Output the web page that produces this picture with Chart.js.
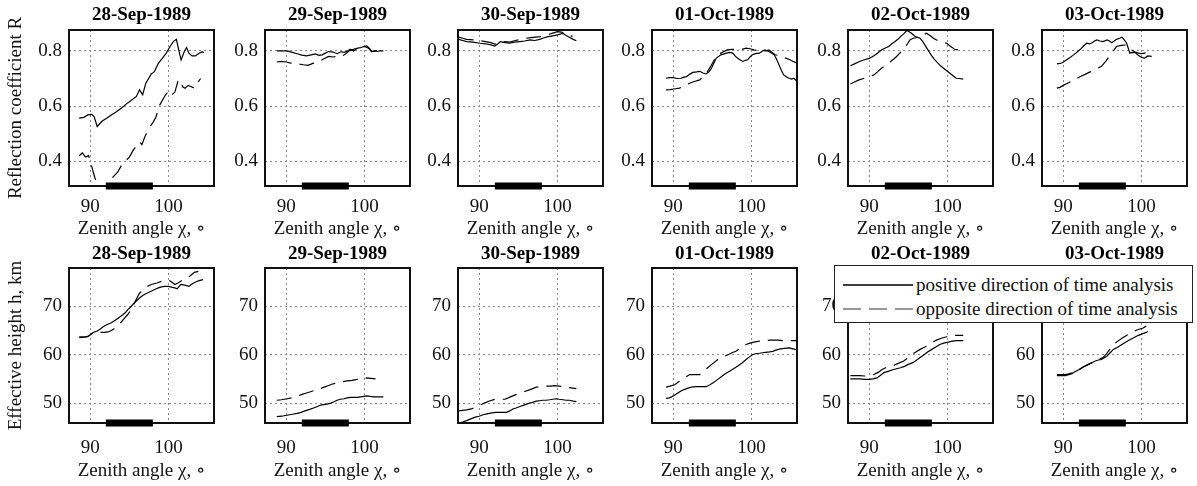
<!DOCTYPE html>
<html lang="en">
<head>
<meta charset="UTF-8">
<title>Reflection coefficient and effective height, 28-Sep to 03-Oct 1989</title>
<script src="https://cdn.jsdelivr.net/npm/chart.js"></script>
<style>
  body { margin: 0; background: #fff; }
  #fig { position: relative; width: 1197px; height: 486px; overflow: hidden; background: #fff; }
  #fig canvas { position: absolute; }
  #legend {
    position: absolute; left: 834px; top: 265px; width: 359px; height: 58px;
    box-sizing: border-box; border: 1px solid #222; background: #fff; z-index: 5;
    font-family: 'Liberation Serif', 'DejaVu Serif', serif; font-size: 19px; color: #111;
  }
  #legend svg { position: absolute; left: 0; top: 0; }
  #legend span { position: absolute; left: 81px; line-height: 22px; white-space: nowrap; }
</style>
</head>
<body>
<div id="fig">
  <div id="legend">
    <svg width="90" height="58">
      <line x1="8" y1="19" x2="78" y2="19" stroke="#000" stroke-width="1.3"/>
      <line x1="8" y1="43" x2="78" y2="43" stroke="#777" stroke-width="1.3" stroke-dasharray="18 8"/>
    </svg>
    <span style="top:8px">positive direction of time analysis</span>
    <span style="top:32px">opposite direction of time analysis</span>
  </div>
</div>
<script>
const serif = "'Liberation Serif', 'DejaVu Serif', serif";
Chart.defaults.font.family = serif;
Chart.defaults.color = '#111';

const dates = ['28-Sep-1989', '29-Sep-1989', '30-Sep-1989', '01-Oct-1989', '02-Oct-1989', '03-Oct-1989'];
const xTicks = [90, 100];
const reflTicks = [0.4, 0.6, 0.8];
const heightTicks = [50, 60, 70];
const nightBar = [92, 98]; // zenith angle span of the black bar on each axis

// reflection coefficient R, [zenith angle, R]
const reflPos28Sep = [[88.6,0.556],[89.2,0.559],[89.7,0.568],[90.2,0.57],[90.5,0.562],[90.9,0.526],[91.5,0.545],[92.1,0.556],[92.7,0.568],[93.4,0.58],[94.0,0.593],[94.6,0.607],[95.3,0.622],[95.9,0.635],[96.3,0.659],[96.7,0.641],[97.1,0.683],[97.8,0.717],[98.2,0.725],[98.7,0.755],[99.2,0.773],[99.7,0.792],[100.2,0.816],[100.6,0.834],[101.0,0.842],[101.3,0.804],[101.6,0.767],[102.0,0.797],[102.3,0.812],[102.6,0.792],[103.0,0.782],[103.4,0.782],[103.9,0.792],[104.3,0.797],[104.5,0.794]];
const reflOpp28Sep = [[88.6,0.42],[89.0,0.43],[89.4,0.415],[89.8,0.42],[90.2,0.38],[90.6,0.34],[91.0,0.31],[91.5,0.29],[92.0,0.31],[92.4,0.33],[93.0,0.345],[93.5,0.36],[94.0,0.385],[94.5,0.40],[95.0,0.415],[95.5,0.44],[96.0,0.46],[96.3,0.47],[96.6,0.46],[97.0,0.49],[97.5,0.52],[98.0,0.54],[98.4,0.56],[98.8,0.60],[99.2,0.62],[99.6,0.64],[100.0,0.655],[100.4,0.64],[100.8,0.65],[101.2,0.69],[101.5,0.695],[101.8,0.67],[102.1,0.665],[102.5,0.675],[102.9,0.67],[103.3,0.665],[103.7,0.685],[104.1,0.70]];
const reflPos29Sep = [[88.8,0.80],[89.5,0.80],[90.1,0.80],[90.8,0.795],[91.4,0.79],[92.0,0.785],[92.6,0.782],[93.2,0.786],[93.7,0.789],[94.2,0.784],[94.6,0.786],[95.0,0.792],[95.4,0.798],[96.0,0.796],[96.5,0.79],[97.0,0.797],[97.4,0.795],[97.8,0.80],[98.2,0.806],[98.6,0.80],[99.1,0.81],[99.5,0.812],[99.9,0.816],[100.3,0.818],[100.6,0.81],[100.9,0.798],[101.3,0.80],[101.6,0.798],[102.0,0.80],[102.4,0.80]];
const reflOpp29Sep = [[88.8,0.76],[89.4,0.762],[90.0,0.76],[90.6,0.756],[91.2,0.754],[91.7,0.752],[92.2,0.75],[92.8,0.748],[93.4,0.755],[94.1,0.76],[94.7,0.77],[95.4,0.78],[96.0,0.778],[96.6,0.782],[97.1,0.78],[97.6,0.79],[98.0,0.80],[98.5,0.805],[99.0,0.81],[99.5,0.815],[100.0,0.816],[100.5,0.81],[100.9,0.798],[101.5,0.80],[102.0,0.798],[102.4,0.80]];
const reflPos30Sep = [[87.4,0.842],[87.9,0.838],[88.4,0.834],[89.2,0.832],[90.1,0.828],[90.8,0.826],[91.5,0.822],[92.0,0.818],[92.4,0.826],[92.7,0.834],[93.3,0.83],[93.9,0.828],[94.5,0.832],[95.2,0.834],[95.8,0.836],[96.5,0.84],[97.1,0.838],[97.7,0.842],[98.3,0.848],[98.8,0.852],[99.4,0.855],[100.0,0.858],[100.4,0.862],[100.7,0.864],[101.1,0.856],[101.5,0.85],[102.0,0.842],[102.4,0.837]];
const reflOpp30Sep = [[87.4,0.85],[87.9,0.846],[88.4,0.842],[89.3,0.84],[90.1,0.837],[90.8,0.834],[91.5,0.83],[92.0,0.825],[92.6,0.83],[93.3,0.834],[93.9,0.832],[94.6,0.838],[95.3,0.842],[96.0,0.846],[96.6,0.848],[97.2,0.85],[97.8,0.852],[98.6,0.858],[99.3,0.864],[100.0,0.87],[100.5,0.868],[101.0,0.864],[101.5,0.858],[101.9,0.852]];
const reflPos01Oct = [[89.1,0.701],[89.5,0.703],[90.0,0.703],[90.5,0.70],[91.0,0.701],[91.4,0.705],[91.7,0.707],[92.1,0.715],[92.5,0.722],[93.0,0.724],[93.4,0.726],[93.8,0.72],[94.2,0.717],[94.6,0.725],[94.9,0.738],[95.2,0.756],[95.5,0.774],[96.1,0.786],[96.8,0.792],[97.2,0.795],[97.6,0.792],[97.9,0.782],[98.2,0.774],[98.6,0.766],[98.9,0.762],[99.2,0.766],[99.5,0.768],[99.8,0.778],[100.1,0.786],[100.5,0.79],[101.0,0.792],[101.4,0.80],[101.7,0.804],[102.2,0.798],[102.6,0.792],[102.9,0.786],[103.2,0.77],[103.5,0.75],[103.8,0.73],[104.1,0.713],[104.5,0.705],[104.8,0.701],[105.1,0.698],[105.4,0.701],[105.8,0.69]];
const reflOpp01Oct = [[89.1,0.659],[89.6,0.66],[90.1,0.662],[90.8,0.665],[91.5,0.675],[92.1,0.683],[92.8,0.69],[93.4,0.695],[93.9,0.71],[94.4,0.726],[94.9,0.75],[95.3,0.77],[95.7,0.786],[96.3,0.795],[96.9,0.804],[97.5,0.806],[98.0,0.806],[98.6,0.804],[99.3,0.81],[99.8,0.808],[100.3,0.804],[100.9,0.80],[101.4,0.798],[101.8,0.80],[102.2,0.804],[102.6,0.795],[103.0,0.786],[103.4,0.784],[103.8,0.782],[104.3,0.775],[104.9,0.768],[105.3,0.762],[105.8,0.756]];
const reflPos02Oct = [[87.6,0.746],[88.2,0.754],[88.7,0.761],[89.3,0.767],[90.0,0.773],[90.4,0.779],[90.8,0.786],[91.2,0.795],[91.6,0.804],[92.0,0.81],[92.5,0.816],[92.9,0.826],[93.3,0.834],[93.7,0.843],[94.0,0.852],[94.4,0.862],[94.8,0.874],[95.1,0.87],[95.4,0.864],[95.9,0.852],[96.5,0.846],[96.8,0.836],[97.1,0.822],[97.5,0.804],[97.9,0.786],[98.3,0.77],[98.8,0.755],[99.1,0.746],[99.5,0.737],[99.9,0.728],[100.3,0.719],[100.7,0.71],[101.1,0.701],[101.5,0.70],[102.0,0.698]];
const reflOpp02Oct = [[87.6,0.68],[88.2,0.688],[88.7,0.695],[89.3,0.70],[90.0,0.706],[90.6,0.713],[91.1,0.725],[91.6,0.738],[92.2,0.75],[92.7,0.761],[93.1,0.77],[93.5,0.78],[94.0,0.795],[94.5,0.81],[94.9,0.826],[95.2,0.84],[95.6,0.846],[96.0,0.848],[96.5,0.852],[96.9,0.858],[97.3,0.864],[97.8,0.855],[98.2,0.846],[98.6,0.84],[99.0,0.834],[99.5,0.83],[99.9,0.828],[100.4,0.816],[100.9,0.806],[101.5,0.803],[102.0,0.80]];
const reflPos03Oct = [[89.2,0.753],[89.6,0.755],[89.9,0.757],[90.3,0.765],[90.7,0.773],[91.2,0.783],[91.6,0.792],[92.2,0.806],[92.6,0.818],[93.0,0.828],[93.4,0.826],[93.7,0.83],[94.0,0.836],[94.3,0.84],[94.7,0.836],[95.1,0.834],[95.6,0.84],[95.9,0.836],[96.2,0.83],[96.5,0.836],[96.8,0.842],[97.2,0.846],[97.5,0.85],[97.8,0.84],[98.1,0.828],[98.3,0.81],[98.5,0.792],[98.8,0.795],[99.2,0.794],[99.5,0.786],[99.8,0.78],[100.1,0.776],[100.4,0.774],[100.8,0.782],[101.3,0.78]];
const reflOpp03Oct = [[89.2,0.665],[89.6,0.668],[90.0,0.675],[90.5,0.682],[91.0,0.689],[91.6,0.698],[92.2,0.707],[92.8,0.715],[93.5,0.725],[94.2,0.735],[94.9,0.744],[95.5,0.765],[96.0,0.786],[96.4,0.80],[96.8,0.816],[97.4,0.82],[98.1,0.822],[98.4,0.812],[98.7,0.804],[99.2,0.796],[99.6,0.792],[100.0,0.79],[100.4,0.792],[100.8,0.80],[101.1,0.804]];

// effective height h in km, [zenith angle, h]
const heightPos28Sep = [[88.6,63.7],[89.1,63.7],[89.6,63.7],[90.0,64.1],[90.4,64.6],[90.9,64.9],[91.3,65.3],[91.7,65.8],[92.1,66.2],[92.7,66.6],[93.2,67.1],[93.7,67.7],[94.2,68.3],[94.5,68.7],[94.8,69.3],[95.2,69.9],[95.5,70.5],[95.9,71.1],[96.3,71.7],[96.7,72.2],[97.1,72.6],[97.5,72.9],[97.9,73.2],[98.3,73.5],[98.7,73.8],[99.1,74.0],[99.5,74.1],[100.0,74.1],[100.5,73.9],[100.8,73.8],[101.1,73.6],[101.4,74.2],[101.6,74.5],[102.2,74.3],[102.6,74.1],[102.9,74.5],[103.2,74.8],[103.6,75.1],[103.9,75.3],[104.4,75.5]];
const heightOpp28Sep = [[88.6,63.5],[89.2,63.6],[89.8,63.8],[90.3,64.5],[90.8,64.8],[91.3,64.6],[91.8,64.6],[92.3,64.7],[92.7,65.0],[93.0,65.3],[93.4,65.8],[94.0,66.8],[94.4,67.6],[94.8,68.3],[95.1,69.0],[95.5,70.2],[95.9,71.5],[96.3,72.7],[96.7,73.3],[97.1,73.8],[97.4,74.2],[97.8,74.5],[98.5,74.8],[99.2,75.2],[99.6,75.3],[100.0,75.4],[100.4,75.0],[100.8,74.5],[101.2,74.8],[101.6,75.2],[102.1,75.8],[102.7,76.2],[103.0,76.6],[103.3,77.0],[103.8,77.2]];
const heightPos29Sep = [[88.8,47.2],[89.4,47.3],[90.1,47.5],[90.8,47.7],[91.4,47.9],[91.9,48.1],[92.4,48.4],[93.0,48.7],[93.5,49.0],[94.0,49.3],[94.4,49.6],[94.8,49.7],[95.2,49.8],[95.7,50.0],[96.1,50.3],[96.5,50.6],[96.9,50.8],[97.4,50.9],[97.8,51.1],[98.2,51.2],[98.6,51.2],[99.1,51.2],[99.5,51.3],[99.9,51.4],[100.3,51.5],[100.7,51.4],[101.2,51.3],[101.8,51.3],[102.4,51.3]];
const heightOpp29Sep = [[88.8,50.6],[89.4,50.7],[90.1,50.9],[90.7,51.1],[91.4,51.4],[92.0,51.8],[92.6,52.1],[93.2,52.4],[93.9,52.8],[94.5,53.1],[95.2,53.5],[95.8,53.9],[96.5,54.2],[97.1,54.4],[97.8,54.6],[98.4,54.7],[99.1,54.9],[99.7,55.0],[100.3,55.2],[100.8,55.1],[101.4,55.0]];
const heightPos30Sep = [[87.4,45.9],[87.9,46.1],[88.4,46.4],[89.0,46.8],[89.5,47.1],[90.0,47.3],[90.5,47.6],[91.0,47.8],[91.6,48.0],[92.1,48.1],[92.7,48.1],[93.1,48.1],[93.5,48.1],[93.9,48.4],[94.3,48.8],[94.7,49.0],[95.2,49.3],[95.7,49.6],[96.2,49.9],[96.7,50.1],[97.3,50.4],[97.7,50.5],[98.1,50.6],[98.5,50.6],[99.0,50.7],[99.4,50.8],[99.8,50.9],[100.2,50.8],[100.7,50.7],[101.1,50.6],[101.5,50.6],[102.0,50.4],[102.4,50.3]];
const heightOpp30Sep = [[87.4,48.4],[87.9,48.5],[88.4,48.6],[89.0,48.8],[89.5,49.1],[90.1,49.6],[90.8,50.1],[91.4,50.5],[92.0,50.8],[92.6,50.8],[93.3,50.8],[94.0,51.3],[94.6,51.7],[95.2,52.1],[95.8,52.4],[96.5,52.8],[97.3,53.3],[98.0,53.4],[98.6,53.5],[99.1,53.5],[99.6,53.6],[100.2,53.5],[100.7,53.4],[101.5,53.2],[102.4,53.0]];
const heightPos01Oct = [[89.1,51.0],[89.5,51.1],[89.8,51.3],[90.2,51.7],[90.6,52.1],[91.1,52.6],[91.7,53.0],[92.3,53.3],[93.0,53.4],[93.6,53.4],[94.2,53.4],[94.7,53.8],[95.1,54.2],[95.6,54.8],[96.1,55.4],[96.6,56.0],[97.2,56.6],[97.7,57.1],[98.2,57.6],[98.8,58.3],[99.3,59.0],[99.7,59.5],[100.1,60.0],[100.5,60.2],[101.0,60.3],[101.4,60.4],[101.8,60.5],[102.3,60.6],[102.7,60.7],[103.2,61.0],[103.7,61.2],[104.2,61.3],[104.8,61.4],[105.3,61.2],[105.8,61.0]];
const heightOpp01Oct = [[89.1,53.3],[89.6,53.5],[90.2,53.8],[90.8,54.5],[91.4,55.2],[92.1,55.9],[92.7,55.9],[93.4,55.9],[93.9,56.6],[94.4,57.3],[95.0,58.1],[95.7,59.0],[96.3,59.5],[97.0,60.0],[97.5,60.4],[98.0,60.7],[98.6,61.4],[99.3,62.1],[99.8,62.4],[100.3,62.6],[101.0,62.8],[101.6,62.9],[102.3,63.0],[102.9,63.0],[103.4,63.0],[103.9,62.9],[104.8,62.9],[105.8,62.9]];
const heightPos02Oct = [[87.6,55.0],[88.2,55.0],[88.8,55.0],[89.4,54.9],[90.0,54.9],[90.5,55.0],[91.0,55.2],[91.5,55.8],[91.9,56.3],[92.5,56.6],[93.0,56.9],[93.5,57.1],[94.0,57.3],[94.5,57.6],[95.0,58.0],[95.5,58.3],[95.9,58.7],[96.5,59.4],[97.0,60.0],[97.5,60.6],[98.0,61.1],[98.5,61.6],[99.0,62.1],[99.5,62.4],[100.1,62.6],[100.6,62.8],[101.1,62.9],[101.5,62.9],[102.0,62.9]];
const heightOpp02Oct = [[87.6,55.7],[88.2,55.7],[88.8,55.7],[89.4,55.6],[90.0,55.6],[90.6,55.9],[91.2,56.4],[91.6,56.9],[92.1,57.3],[92.6,57.6],[93.1,57.8],[93.7,58.2],[94.4,58.7],[94.9,59.3],[95.4,60.0],[96.0,60.6],[96.5,61.1],[97.1,61.6],[97.6,62.1],[98.1,62.6],[98.6,63.0],[99.2,63.4],[99.9,63.7],[100.5,63.9],[101.0,64.0],[101.5,64.0],[102.0,64.0]];
const heightPos03Oct = [[89.2,55.7],[89.7,55.7],[90.3,55.7],[90.7,55.9],[91.1,56.1],[91.5,56.5],[92.0,56.9],[92.5,57.4],[93.0,57.8],[93.6,58.3],[94.1,58.7],[94.5,58.9],[94.9,59.0],[95.3,59.4],[95.6,59.7],[96.0,60.4],[96.4,61.1],[97.0,61.6],[97.5,62.1],[98.0,62.6],[98.5,63.1],[99.0,63.5],[99.6,64.0],[100.1,64.3],[100.6,64.6],[100.8,64.8]];
const heightOpp03Oct = [[89.2,55.9],[89.7,55.9],[90.3,55.9],[90.8,56.1],[91.4,56.4],[92.0,56.9],[92.6,57.5],[93.2,58.0],[93.9,58.5],[94.5,59.0],[95.1,59.4],[95.5,60.1],[95.8,60.8],[96.3,61.8],[96.8,62.6],[97.5,63.4],[98.3,64.2],[98.9,64.7],[99.4,65.1],[99.8,65.3],[100.2,65.5],[100.6,65.9]];

const reflPositive = [reflPos28Sep, reflPos29Sep, reflPos30Sep, reflPos01Oct, reflPos02Oct, reflPos03Oct];
const reflOpposite = [reflOpp28Sep, reflOpp29Sep, reflOpp30Sep, reflOpp01Oct, reflOpp02Oct, reflOpp03Oct];
const heightPositive = [heightPos28Sep, heightPos29Sep, heightPos30Sep, heightPos01Oct, heightPos02Oct, heightPos03Oct];
const heightOpposite = [heightOpp28Sep, heightOpp29Sep, heightOpp30Sep, heightOpp01Oct, heightOpp02Oct, heightOpp03Oct];

// layout of the 2 x 6 grid (pixels)
const plotLeft = [69, 265, 458, 652, 848, 1042];
const plotW = 145;
const rows = [
  { top: 0, head: 30, h: 156, foot: 57, min: 0.31, max: 0.876, ticks: reflTicks,
    yTitle: 'Reflection coefficient R', titlePad: {top: 4, bottom: 3.2}, tickPad: 10, xTitlePad: 2.6,
    fmt: v => v.toFixed(1), pos: reflPositive, opp: reflOpposite },
  { top: 243, head: 25, h: 155, foot: 63, min: 45.9, max: 77.9, ticks: heightTicks,
    yTitle: 'Effective height h, km', titlePad: {top: 0, bottom: 2.2}, tickPad: 14, xTitlePad: 4,
    fmt: v => String(v), pos: heightPositive, opp: heightOpposite }
];

const font19 = { family: serif, size: 19 };

const framePlugin = { // box round the axes, drawn under the data and the bar
  id: 'frame',
  beforeDatasetsDraw(chart) {
    const a = chart.chartArea, ctx = chart.ctx;
    ctx.save();
    ctx.strokeStyle = '#111';
    ctx.lineWidth = 2;
    ctx.strokeRect(a.left, a.top, a.right - a.left, a.bottom - a.top);
    ctx.restore();
  }
};

const fig = document.getElementById('fig');
const legendBox = document.getElementById('legend');

rows.forEach(row => {
  dates.forEach((date, c) => {
    const yw = c === 0 ? plotLeft[0] : 60;
    const cv = document.createElement('canvas');
    cv.width = yw + plotW + 6;
    cv.height = row.head + row.h + row.foot;
    cv.style.left = (plotLeft[c] - yw) + 'px';
    cv.style.top = row.top + 'px';
    fig.insertBefore(cv, legendBox);

    new Chart(cv, {
      type: 'line',
      data: {
        datasets: [
          { data: row.pos[c], borderColor: '#000', borderWidth: 1.2, pointRadius: 0, fill: false },
          { data: row.opp[c], borderColor: '#000', borderWidth: 1.2, borderDash: [15, 8], pointRadius: 0, fill: false },
          { data: nightBar.map(x => [x, row.min]), borderColor: '#000', borderWidth: 7,
            borderCapStyle: 'butt', pointRadius: 0, clip: false }
        ]
      },
      options: {
        responsive: false,
        animation: false,
        events: [],
        layout: { autoPadding: false, padding: {left: 0, right: 6, top: 0, bottom: 0} },
        plugins: {
          legend: { display: false },
          tooltip: { enabled: false },
          title: { display: true, text: date, fullSize: false, color: '#000',
                   font: {family: serif, size: 19, weight: 'bold'}, padding: row.titlePad }
        },
        scales: {
          x: {
            type: 'linear', min: 87.3, max: 105.8,
            afterBuildTicks: s => { s.ticks = xTicks.map(v => ({value: v})); },
            afterFit: s => { s.height = row.foot; },
            grid: { color: '#8a8a8a', lineWidth: 1, drawTicks: false },
            border: { display: false, dash: [2, 3] },
            ticks: { font: font19, color: '#111', padding: row.tickPad, maxRotation: 0, autoSkip: false },
            title: { display: true, text: 'Zenith angle χ, ∘', font: font19, color: '#111',
                     padding: {top: 0, bottom: row.xTitlePad} }
          },
          y: {
            min: row.min, max: row.max,
            afterBuildTicks: s => { s.ticks = row.ticks.map(v => ({value: v})); },
            afterFit: s => { s.width = yw; },
            grid: { color: '#8a8a8a', lineWidth: 1, drawTicks: false },
            border: { display: false, dash: [2, 3] },
            ticks: { font: font19, color: '#111', padding: 7, callback: row.fmt },
            title: { display: c === 0, text: row.yTitle, font: font19, color: '#111',
                     padding: {top: 4.6, bottom: 0} }
          }
        }
      },
      plugins: [framePlugin]
    });
  });
});
</script>
</body>
</html>
